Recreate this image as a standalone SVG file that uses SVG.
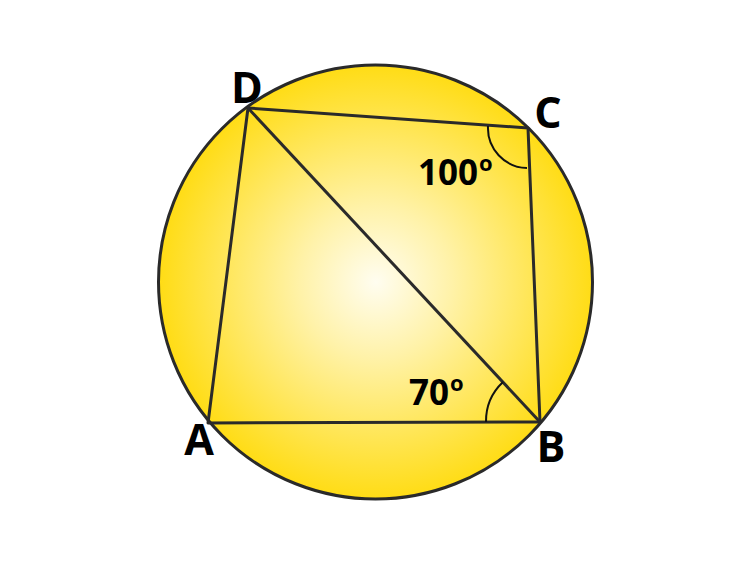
<svg xmlns="http://www.w3.org/2000/svg" width="750" height="564" viewBox="0 0 750 564">
<defs>
<radialGradient id="g" cx="376" cy="282" r="218" gradientUnits="userSpaceOnUse">
<stop offset="0" stop-color="#FFFDF0"/>
<stop offset="0.35" stop-color="#FFF2A8"/>
<stop offset="1" stop-color="#FFDC14"/>
</radialGradient>
<style>
.ln{fill:none;stroke:#2a2a2a;stroke-width:3;stroke-linejoin:round}
.arc{fill:none;stroke:#111;stroke-width:2}
.lbl{font-family:"Open Sans","Liberation Sans",sans-serif;font-weight:bold;font-size:43px;fill:#000}
.ang{font-family:"Open Sans","Liberation Sans",sans-serif;font-weight:bold;font-size:35px;fill:#000}
.deg{font-family:"Open Sans","Liberation Sans",sans-serif;font-weight:bold;font-size:22px;fill:#000}
</style>
</defs>
<rect width="750" height="564" fill="#fff"/>
<g id="circle">
<circle cx="375.5" cy="282" r="217" fill="url(#g)" stroke="#2a2a2a" stroke-width="3"/>
</g>
<g id="connectors">
<polygon class="ln" points="248,108 528,128 540,422 208,423"/>
<line class="ln" x1="248" y1="108" x2="540" y2="422"/>
<path class="arc" d="M488,126 A40,40 0 0 0 527,168"/>
<path class="arc" d="M486,422 A54,54 0 0 1 503,382"/>
</g>
<g id="D"><text class="lbl" x="247" y="103" text-anchor="middle">D</text></g>
<g id="C"><text class="lbl" x="548" y="128" text-anchor="middle">C</text></g>
<g id="B"><text class="lbl" x="551" y="462" text-anchor="middle">B</text></g>
<g id="A"><text class="lbl" x="199" y="455" text-anchor="middle">A</text></g>
<g id="angleC"><text class="ang" x="418" y="185">100</text><text class="deg" x="479" y="171">o</text></g>
<g id="angleB"><text class="ang" x="409" y="405">70</text><text class="deg" x="450" y="391">o</text></g>
</svg>
